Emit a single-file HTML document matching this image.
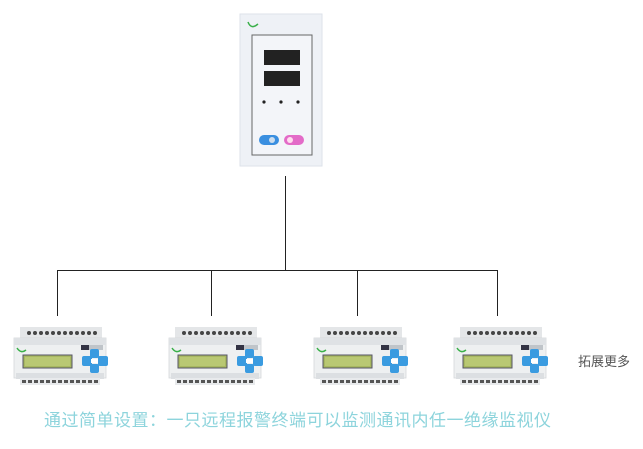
<!DOCTYPE html>
<html><head><meta charset="utf-8"><style>
html,body{margin:0;padding:0;background:#fff;}
body{width:643px;height:449px;position:relative;overflow:hidden;font-family:"Liberation Sans","Noto Sans CJK SC",sans-serif;}
</style></head><body>
<svg width="643" height="449" viewBox="0 0 643 449" style="position:absolute;left:0;top:0">
<defs>
<g id="dev">
  <rect x="7" y="2" width="82" height="13" fill="#e4e6e8"/>
  <g fill="#444">
    <circle cx="16" cy="8" r="2"/><circle cx="22" cy="8" r="2"/><circle cx="28" cy="8" r="2"/><circle cx="34" cy="8" r="2"/><circle cx="40" cy="8" r="2"/><circle cx="46" cy="8" r="2"/><circle cx="52" cy="8" r="2"/><circle cx="58" cy="8" r="2"/><circle cx="64" cy="8" r="2"/><circle cx="70" cy="8" r="2"/><circle cx="76" cy="8" r="2"/><circle cx="82" cy="8" r="2"/>
  </g>
  <rect x="1" y="13" width="92" height="40" fill="#eef0f1" stroke="#d4d7da" stroke-width="0.8"/>
  <rect x="1" y="13" width="92" height="7" fill="#dfe2e5"/>
  <rect x="68" y="20" width="22" height="5" fill="#bfc4c9"/>
  <rect x="68" y="20" width="8" height="5" fill="#334"/>
  <path d="M4 23 q4 6 9 2" stroke="#3ab04a" stroke-width="1.5" fill="none"/>
  <rect x="10" y="30" width="49" height="13" fill="#a8b860" stroke="#556" stroke-width="1"/>
  <rect x="12" y="32" width="45" height="9" fill="#b9c873"/>
  <g fill="#3a9be0">
    <rect x="69" y="31" width="10" height="10" rx="2"/>
    <rect x="85" y="31" width="10" height="10" rx="2"/>
    <rect x="77" y="24" width="9" height="9" rx="2"/>
    <rect x="77" y="39" width="9" height="9" rx="2"/>
  </g>
  <rect x="78" y="34" width="7" height="4" fill="#fff"/>
  <rect x="3" y="48" width="88" height="6" fill="#dcdfe2"/>
  <rect x="7" y="53" width="80" height="7" fill="#e8eaec"/>
  <g fill="#555">
    <rect x="9" y="55" width="4" height="3"/><rect x="15" y="55" width="4" height="3"/><rect x="21" y="55" width="4" height="3"/><rect x="27" y="55" width="4" height="3"/><rect x="33" y="55" width="4" height="3"/><rect x="39" y="55" width="4" height="3"/><rect x="45" y="55" width="4" height="3"/><rect x="51" y="55" width="4" height="3"/><rect x="57" y="55" width="4" height="3"/><rect x="63" y="55" width="4" height="3"/><rect x="69" y="55" width="4" height="3"/><rect x="75" y="55" width="4" height="3"/><rect x="81" y="55" width="4" height="3"/>
  </g>
</g>
</defs>
<rect x="240" y="14" width="82" height="152" fill="#eef1f6" stroke="#dde2ea"/>
<path d="M248 22 q3 8 10 2" stroke="#3ab04a" stroke-width="1.5" fill="none"/>
<rect x="252" y="35" width="60" height="120" fill="#f3f5f9" stroke="#666" stroke-width="1"/>
<rect x="264" y="50" width="36" height="15" fill="#222"/>
<rect x="264" y="71" width="36" height="15" fill="#222"/>
<circle cx="264" cy="102" r="1.6" fill="#222"/><circle cx="281" cy="102" r="1.6" fill="#222"/><circle cx="298" cy="102" r="1.6" fill="#222"/>
<rect x="259" y="135" width="20" height="10" rx="5" fill="#3a8fe0"/>
<circle cx="272" cy="140" r="3" fill="#cde"/>
<rect x="284" y="135" width="20" height="10" rx="5" fill="#e36bc8"/>
<circle cx="290" cy="140" r="3" fill="#fde"/>
<g stroke="#222" stroke-width="1" fill="none">
<line x1="285.5" y1="176" x2="285.5" y2="270"/>
<line x1="57" y1="270.5" x2="497" y2="270.5"/>
<line x1="57.5" y1="270" x2="57.5" y2="316"/>
<line x1="211.5" y1="270" x2="211.5" y2="316"/>
<line x1="357.5" y1="270" x2="357.5" y2="316"/>
<line x1="497.5" y1="270" x2="497.5" y2="316"/>
</g>
<use href="#dev" x="13" y="325"/>
<use href="#dev" x="168" y="325"/>
<use href="#dev" x="313" y="325"/>
<use href="#dev" x="453" y="325"/>
</svg>
<div style="position:absolute;left:578px;top:351px;font-size:13px;color:#555;white-space:nowrap">拓展更多</div>
<div style="position:absolute;left:44px;top:406px;font-size:17px;letter-spacing:0.5px;color:#8dd4dc;white-space:nowrap">通过简单设置：一只远程报警终端可以监测通讯内任一绝缘监视仪</div>
</body></html>
